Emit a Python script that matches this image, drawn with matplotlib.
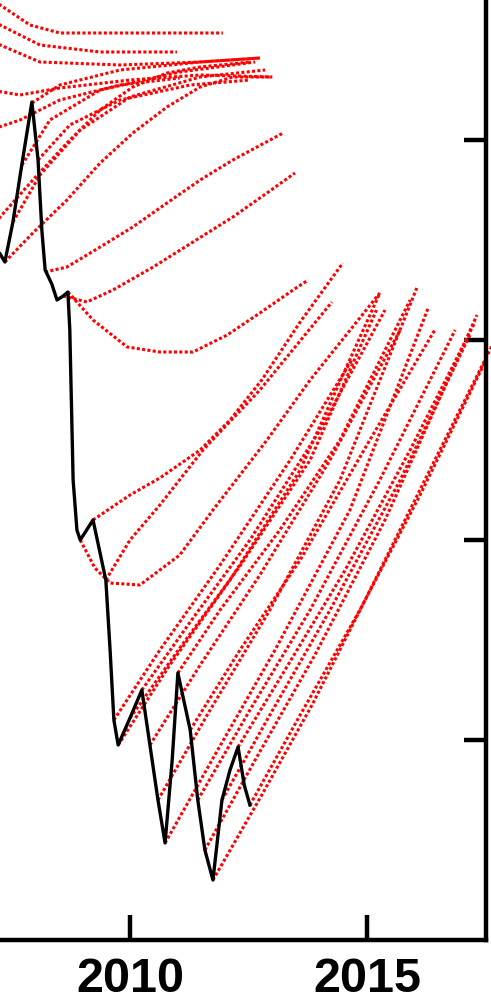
import matplotlib

matplotlib.use("Agg")

import matplotlib.pyplot as plt

RED = "#FF0000"
BLACK = "#000000"

# observed series (black)
ACTUAL_YEARS = [2007.26, 2007.36, 2007.53, 2007.72, 2007.93, 2008.06, 2008.14, 2008.21,
                2008.35, 2008.46, 2008.59, 2008.69, 2008.73, 2008.80, 2008.88, 2008.95,
                2009.22, 2009.49, 2009.58, 2009.66, 2009.75, 2010.00, 2010.25, 2010.42,
                2010.59, 2010.74, 2010.89, 2011.01, 2011.27, 2011.43, 2011.58, 2011.75,
                2011.94, 2012.11, 2012.28, 2012.41, 2012.53]
ACTUAL_VALUES = [3.43, 3.39, 3.59, 3.88, 4.19, 3.90, 3.55, 3.35,
                 3.28, 3.20, 3.22, 3.24, 3.05, 2.30, 2.05, 2.00,
                 2.10, 1.80, 1.45, 1.10, 0.975, 1.11, 1.25, 0.975,
                 0.70, 0.485, 0.90, 1.335, 1.05, 0.70, 0.45, 0.30,
                 0.70, 0.85, 0.965, 0.775, 0.675]

# forecast paths (red), grouped by vintage
EARLY_YEARS = [
    [2006.62, 2007.26, 2007.89, 2008.52, 2009.37, 2010.63, 2011.96],
    [2006.62, 2007.26, 2008.10, 2009.37, 2010.99],
    [2006.84, 2007.26, 2008.10, 2009.79, 2011.48, 2012.74],
    [2007.05, 2007.68, 2008.52, 2010.00, 2011.48, 2013.00],
    [2007.05, 2007.68, 2008.52, 2009.79, 2011.05],
    [2007.05, 2007.26, 2007.95, 2008.67, 2009.37, 2010.06, 2010.78, 2011.48, 2012.53],
]
EARLY_VALUES = [
    [4.80, 4.675, 4.575, 4.535, 4.535, 4.535, 4.535],
    [4.675, 4.575, 4.475, 4.44, 4.44],
    [4.55, 4.475, 4.39, 4.375, 4.39, 4.41],
    [4.25, 4.225, 4.26, 4.30, 4.325, 4.315],
    [4.05, 4.10, 4.20, 4.275, 4.31],
    [3.55, 3.615, 3.80, 3.985, 4.15, 4.265, 4.335, 4.365, 4.39],
]

UPPER_YEARS = [
    [2007.36, 2007.95, 2008.67, 2009.37, 2010.06, 2010.78, 2011.48, 2012.17, 2013.00],
    [2007.53, 2008.10, 2008.95, 2010.00, 2011.48, 2012.85],
    [2007.72, 2008.31, 2009.37, 2011.05, 2012.64],
    [2007.93, 2008.52, 2009.79, 2011.48, 2012.74],
    [2008.06, 2008.73, 2009.79, 2011.27, 2012.53],
    [2008.21, 2008.67, 2009.37, 2010.06, 2010.78, 2011.48, 2012.17, 2013.23],
    [2008.59, 2009.09, 2009.64, 2010.49, 2011.33, 2012.17, 2012.89, 2013.48],
    [2008.69, 2009.22, 2009.94, 2010.63, 2011.33, 2012.05, 2012.74, 2013.44, 2013.76],
]
UPPER_VALUES = [
    [3.39, 3.535, 3.70, 3.885, 4.035, 4.165, 4.265, 4.315, 4.315],
    [3.59, 3.825, 4.05, 4.215, 4.315, 4.35],
    [3.875, 4.10, 4.25, 4.34, 4.39],
    [4.185, 4.275, 4.35, 4.39, 4.41],
    [3.90, 4.075, 4.20, 4.275, 4.30],
    [3.34, 3.365, 3.465, 3.565, 3.685, 3.80, 3.90, 4.035],
    [3.22, 3.19, 3.25, 3.365, 3.49, 3.615, 3.735, 3.835],
    [3.24, 3.10, 2.965, 2.94, 2.94, 3.025, 3.135, 3.25, 3.30],
]

MID_YEARS = [
    [2009.22, 2010.00, 2010.63, 2011.48, 2012.11, 2012.78, 2013.59, 2014.49],
    [2009.49, 2010.00, 2010.63, 2011.54, 2012.74, 2014.26],
    [2008.95, 2009.26, 2009.58, 2010.21, 2011.05, 2011.75, 2012.89, 2013.80, 2015.27],
]
MID_VALUES = [
    [2.10, 2.225, 2.31, 2.45, 2.60, 2.80, 3.09, 3.385],
    [1.80, 2.00, 2.175, 2.45, 2.75, 3.19],
    [2.00, 1.86, 1.785, 1.775, 1.925, 2.15, 2.50, 2.80, 3.235],
]

LATE_YEARS = [
    [2009.66, 2010.63, 2011.90, 2013.38, 2014.68],
    [2009.75, 2010.84, 2012.11, 2013.59, 2015.27],
    [2010.00, 2011.05, 2012.32, 2013.80, 2015.20],
    [2010.25, 2011.27, 2012.53, 2014.01, 2015.38],
    [2010.42, 2011.48, 2012.74, 2014.22, 2015.70],
    [2010.59, 2011.69, 2012.95, 2014.43, 2016.05],
    [2010.74, 2011.79, 2013.06, 2014.64, 2016.29],
    [2011.01, 2011.90, 2013.16, 2014.43, 2015.91],
    [2011.27, 2012.32, 2013.59, 2015.06, 2016.43],
    [2011.43, 2012.53, 2013.80, 2015.27, 2016.86],
    [2011.58, 2012.64, 2013.90, 2015.38, 2017.32],
    [2011.75, 2012.78, 2013.84, 2014.96, 2016.22, 2017.72],
    [2011.94, 2012.95, 2014.22, 2015.70, 2017.17],
    [2012.28, 2013.27, 2014.54, 2015.91, 2017.28],
    [2012.53, 2013.59, 2014.85, 2016.12, 2017.51],
]
LATE_VALUES = [
    [1.10, 1.45, 1.875, 2.40, 2.90],
    [0.975, 1.375, 1.80, 2.35, 3.235],
    [1.11, 1.46, 1.87, 2.40, 3.15],
    [1.25, 1.59, 2.00, 2.55, 3.15],
    [0.975, 1.375, 1.825, 2.40, 3.05],
    [0.70, 1.15, 1.65, 2.30, 3.26],
    [0.485, 0.925, 1.45, 2.15, 3.16],
    [1.335, 1.65, 2.05, 2.50, 3.20],
    [1.05, 1.45, 1.90, 2.50, 3.05],
    [0.70, 1.15, 1.65, 2.30, 3.05],
    [0.45, 0.90, 1.425, 2.10, 3.125],
    [0.30, 0.725, 1.175, 1.70, 2.30, 3.01],
    [0.70, 1.125, 1.65, 2.30, 3.025],
    [0.965, 1.35, 1.85, 2.45, 3.09],
    [0.675, 1.125, 1.65, 2.225, 2.90],
]

X_TICKS = [2010, 2015]
Y_TICKS = [1, 2, 3, 4]


def main() -> None:
    fig = plt.figure(figsize=(4.91, 10.05), dpi=100)
    ax = fig.add_axes([0, 65 / 1005, 486 / 491, 940 / 1005])

    for years_group, values_group in (
        (EARLY_YEARS, EARLY_VALUES),
        (UPPER_YEARS, UPPER_VALUES),
        (MID_YEARS, MID_VALUES),
        (LATE_YEARS, LATE_VALUES),
    ):
        for years, values in zip(years_group, values_group):
            ax.plot(years, values, color=RED, lw=2.2, linestyle=(0, (1, 0.75)),
                    clip_on=False, zorder=2)

    ax.plot(ACTUAL_YEARS, ACTUAL_VALUES, color=BLACK, lw=2.4, clip_on=False, zorder=3)

    ax.set_xlim(2007.2574, 2017.5105)
    ax.set_ylim(0, 4.70)

    ax.spines["left"].set_visible(False)
    ax.spines["top"].set_visible(False)
    for side in ("bottom", "right"):
        ax.spines[side].set_linewidth(3.2)
        ax.spines[side].set_zorder(4)

    ax.yaxis.tick_right()
    ax.set_yticks(Y_TICKS)
    ax.tick_params(axis="y", direction="in", length=16, width=3.2, labelright=False)
    ax.set_xticks(X_TICKS, [str(t) for t in X_TICKS])
    ax.tick_params(axis="x", direction="in", length=18, width=3.2, pad=12)
    for label in ax.get_xticklabels():
        label.set_fontfamily("Liberation Sans")
        label.set_fontweight("bold")
        label.set_fontsize(35)

    fig.savefig("out.png", dpi=100)
    plt.close(fig)


if __name__ == "__main__":
    main()
